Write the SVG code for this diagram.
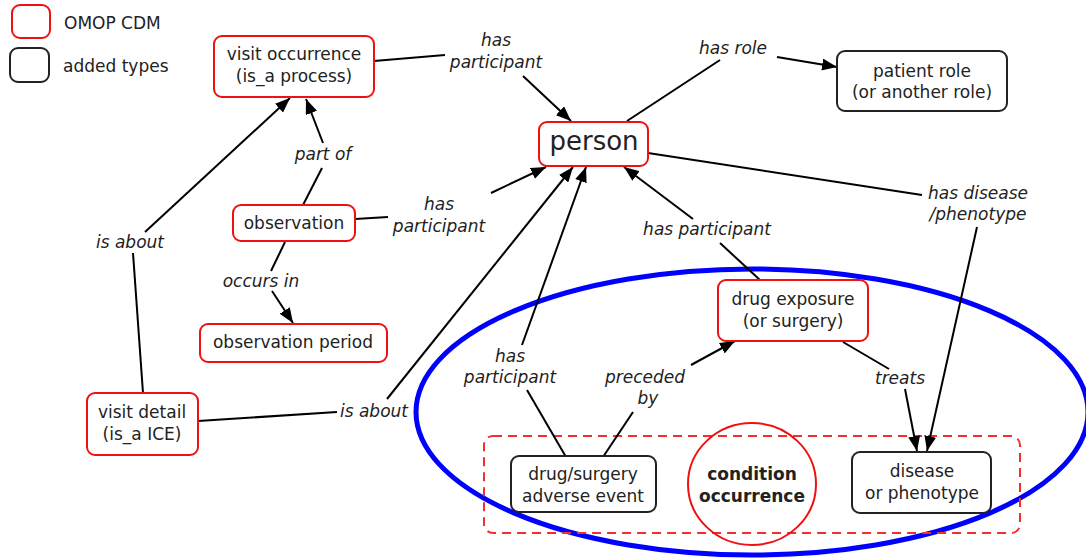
<svg xmlns="http://www.w3.org/2000/svg" width="1086" height="558" viewBox="0 0 1086 558">
<defs>
<marker id="arr" markerUnits="userSpaceOnUse" markerWidth="16" markerHeight="12" refX="15" refY="6" orient="auto">
<path d="M0,0 L15,6 L0,12 z" fill="#000"/>
</marker>
<style>
text{font-family:"DejaVu Sans","Verdana",sans-serif;font-size:17px;fill:#222;text-anchor:middle}
.lbl{font-style:italic}
.omop{fill:#fff;stroke:#f01010;stroke-width:2}
.added{fill:#fff;stroke:#222;stroke-width:2}
.c{fill:none;stroke:#000;stroke-width:2}
.a{fill:none;stroke:#000;stroke-width:2;marker-end:url(#arr)}
</style>
</defs>
<rect width="1086" height="558" fill="#fff"/>
<g id="legend">
<rect x="12" y="5" width="38" height="33" rx="8" class="omop"/>
<text x="64" y="29" style="text-anchor:start">OMOP CDM</text>
<rect x="10" y="48" width="39" height="34" rx="8" class="added"/>
<text x="63" y="72" style="text-anchor:start">added types</text>
</g>
<g id="groups">
<ellipse cx="752" cy="412" rx="336" ry="143" fill="none" stroke="#0000ff" stroke-width="5"/>
<rect x="484" y="436" width="536" height="97" rx="9" fill="none" stroke="#f03030" stroke-width="2" stroke-dasharray="9,6"/>
</g>
<g id="connectors">
<path class="c" d="M374,61 L445,55"/><path class="a" d="M523,76 L571,121"/>
<path class="c" d="M627,121 L720,60"/><path class="a" d="M777,57 L837,67"/>
<path class="c" d="M648,153 L922,195"/><path class="a" d="M977,227 L927,451"/>
<path class="c" d="M303,205 L322,168"/><path class="a" d="M323,143 L306,99"/>
<path class="c" d="M285,242 L271,271"/><path class="a" d="M272,291 L293,323"/>
<path class="c" d="M355,219 L388,217"/><path class="a" d="M491,193 L546,167"/>
<path class="c" d="M143,393 L133,253"/><path class="a" d="M145,232 L290,98"/>
<path class="c" d="M198,421 L337,412"/><path class="a" d="M387,399 L573,167"/>
<path class="c" d="M566,457 L527,390"/><path class="a" d="M522,345 L586,167"/>
<path class="c" d="M603,457 L633,412"/><path class="a" d="M691,365 L735,341"/>
<path class="c" d="M760,280 L720,243"/><path class="a" d="M693,219 L624,167"/>
<path class="c" d="M843,342 L889,369"/><path class="a" d="M905,389 L917,451"/>
<g id="labels">
<text class="lbl" x="496" y="46">has</text><text class="lbl" x="496" y="68">participant</text>
<text class="lbl" x="733" y="54">has role</text>
<text class="lbl" x="978" y="199">has disease</text><text class="lbl" x="978" y="220">/phenotype</text>
<text class="lbl" x="323" y="160">part of</text>
<text class="lbl" x="261" y="287">occurs in</text>
<text class="lbl" x="439" y="210">has</text><text class="lbl" x="439" y="232">participant</text>
<text class="lbl" x="130" y="248">is about</text>
<text class="lbl" x="374" y="417">is about</text>
<text class="lbl" x="510" y="362">has</text><text class="lbl" x="510" y="383">participant</text>
<text class="lbl" x="645" y="383">preceded</text><text class="lbl" x="648" y="404">by</text>
<text class="lbl" x="707" y="235">has participant</text>
<text class="lbl" x="900" y="384">treats</text>
</g>
</g>
<g id="visit-occurrence">
<rect x="214" y="36" width="160" height="61" rx="8" class="omop"/>
<text x="294" y="60">visit occurrence</text><text x="294" y="82">(is_a process)</text>
</g>
<g id="person">
<rect x="539" y="122" width="109" height="44" rx="8" class="omop"/>
<text x="594" y="150" style="font-size:26px">person</text>
</g>
<g id="patient-role">
<rect x="837" y="51" width="170" height="60" rx="8" class="added"/>
<text x="922" y="77">patient role</text><text x="922" y="98">(or another role)</text>
</g>
<g id="observation">
<rect x="233" y="205" width="122" height="36" rx="8" class="omop"/>
<text x="294" y="229">observation</text>
</g>
<g id="observation-period">
<rect x="200" y="324" width="187" height="38" rx="8" class="omop"/>
<text x="293" y="348">observation period</text>
</g>
<g id="visit-detail">
<rect x="87" y="393" width="111" height="62" rx="8" class="omop"/>
<text x="142" y="418">visit detail</text><text x="142" y="440">(is_a ICE)</text>
</g>
<g id="drug-exposure">
<rect x="718" y="280" width="150" height="61" rx="8" class="omop"/>
<text x="793" y="305">drug exposure</text><text x="793" y="327">(or surgery)</text>
</g>
<g id="adverse-event">
<rect x="511" y="456" width="145" height="56" rx="8" class="added"/>
<text x="583" y="480">drug/surgery</text><text x="583" y="502">adverse event</text>
</g>
<g id="disease">
<rect x="852" y="452" width="139" height="61" rx="8" class="added"/>
<text x="922" y="477">disease</text><text x="922" y="499">or phenotype</text>
</g>
<g id="condition-occurrence">
<ellipse cx="752" cy="484" rx="64" ry="61" fill="none" stroke="#f01010" stroke-width="2"/>
<text x="752" y="480" style="font-weight:bold">condition</text><text x="752" y="502" style="font-weight:bold">occurrence</text>
</g>
</svg>
